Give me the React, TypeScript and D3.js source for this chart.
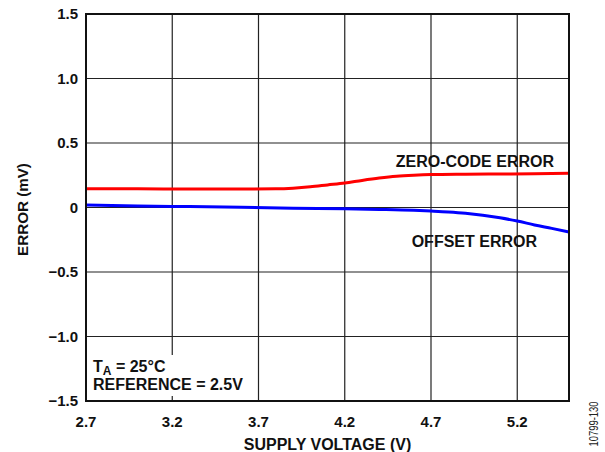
import React from "react";
import * as d3 from "d3";

const xTicks = [2.7, 3.2, 3.7, 4.2, 4.7, 5.2];
const yTicks = [-1.5, -1.0, -0.5, 0, 0.5, 1.0, 1.5];
const yTickLabels = ["\u22121.5", "\u22121.0", "\u22120.5", "0", "0.5", "1.0", "1.5"];

const zeroCodeV = [2.7, 3.0, 3.3, 3.6, 3.8, 3.9, 4.0, 4.1, 4.2, 4.3, 4.4, 4.5, 4.6, 4.7, 4.9, 5.1, 5.3, 5.5];
const zeroCodeErr = [0.145, 0.145, 0.143, 0.143, 0.145, 0.15, 0.16, 0.175, 0.19, 0.21, 0.228, 0.242, 0.25, 0.255, 0.258, 0.26, 0.262, 0.265];

const offsetV = [2.7, 3.0, 3.3, 3.6, 3.9, 4.2, 4.4, 4.6, 4.7, 4.8, 4.9, 5.0, 5.1, 5.2, 5.3, 5.4, 5.5];
const offsetErr = [0.02, 0.012, 0.007, 0.002, -0.005, -0.01, -0.015, -0.022, -0.028, -0.035, -0.045, -0.06, -0.08, -0.105, -0.135, -0.162, -0.19];

const W = 605, H = 452;
const L = 86, R = 569, T = 14, B = 401;
const font = "'Liberation Sans', Arial, sans-serif";

export default function App() {
  const x = d3.scaleLinear().domain([2.7, 5.5]).range([L, R]);
  const y = d3.scaleLinear().domain([-1.5, 1.5]).range([B, T]);
  const line = d3.line<[number, number]>().x(d => x(d[0])).y(d => y(d[1])).curve(d3.curveMonotoneX);
  const zc = zeroCodeV.map((v, i) => [v, zeroCodeErr[i]] as [number, number]);
  const off = offsetV.map((v, i) => [v, offsetErr[i]] as [number, number]);

  return (
    <svg width={W} height={H} style={{ position: "absolute", left: 0, top: 0, background: "#fff" }}>
      <rect x={0} y={0} width={W} height={H} fill="#fff" />
      {xTicks.slice(1).map(t => (
        <line key={"gx" + t} x1={x(t)} x2={x(t)} y1={T} y2={B} stroke="#222" strokeWidth={1.2} />
      ))}
      {yTicks.slice(1, -1).map(t => (
        <line key={"gy" + t} x1={L} x2={R} y1={y(t)} y2={y(t)} stroke="#222" strokeWidth={1.2} />
      ))}
      <rect x={L + 2} y={355} width={166} height={41} fill="#fff" />
      <path d={line(zc) || ""} fill="none" stroke="#ff0000" strokeWidth={3} />
      <path d={line(off) || ""} fill="none" stroke="#0000ff" strokeWidth={3} />
      <rect x={L} y={T} width={R - L} height={B - T} fill="none" stroke="#111" strokeWidth={2} />
      <g fontFamily={font} fontWeight="bold" fill="#111">
        {yTicks.map((t, i) => (
          <text key={"yl" + t} x={78} y={y(t) + 5} textAnchor="end" fontSize={15}>{yTickLabels[i]}</text>
        ))}
        {xTicks.map(t => (
          <text key={"xl" + t} x={x(t)} y={427} textAnchor="middle" fontSize={15}>{t.toFixed(1)}</text>
        ))}
        <text x={(L + R) / 2} y={450} textAnchor="middle" fontSize={16}>SUPPLY VOLTAGE (V)</text>
        <text transform={`translate(28,209.5) rotate(-90)`} textAnchor="middle" fontSize={15.2}>ERROR (mV)</text>
        <text x={554} y={166.5} textAnchor="end" fontSize={16}>ZERO-CODE ERROR</text>
        <text x={537} y={246.5} textAnchor="end" fontSize={16}>OFFSET ERROR</text>
        <text x={93} y={371.5} fontSize={16}>T<tspan dy={3} fontSize={12}>A</tspan><tspan dy={-3}> = 25°C</tspan></text>
        <text x={93} y={390} fontSize={16}>REFERENCE = 2.5V</text>
      </g>
      <text transform={`translate(598,424) rotate(-90)`} textAnchor="middle" fontFamily={font} fontSize={12} textLength={45} lengthAdjust="spacingAndGlyphs" fill="#222">10799-130</text>
    </svg>
  );
}
